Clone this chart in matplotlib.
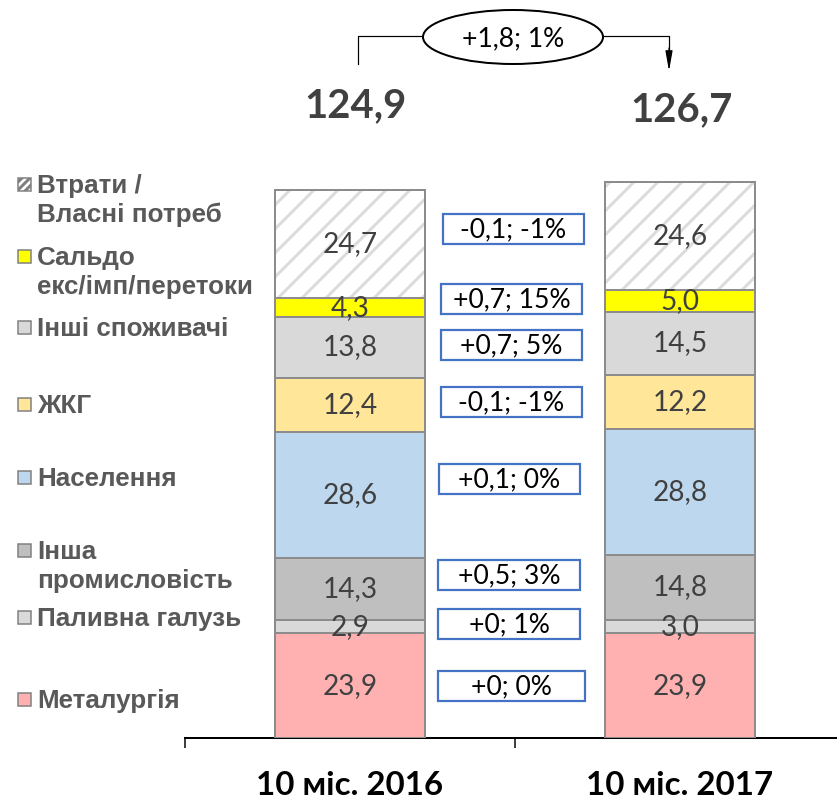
import matplotlib
matplotlib.use("Agg")
import matplotlib.pyplot as plt
from matplotlib.patches import Rectangle, Ellipse
import numpy as np

# ---------------- data ----------------
periods = ["10 міс. 2016", "10 міс. 2017"]
categories = ["Металургія", "Паливна галузь", "Інша\nпромисловість", "Населення",
              "ЖКГ", "Інші споживачі", "Сальдо\nекс/імп/перетоки", "Втрати /\nВласні потреб"]
values_2016 = [23.9, 2.9, 14.3, 28.6, 12.4, 13.8, 4.3, 24.7]
values_2017 = [23.9, 3.0, 14.8, 28.8, 12.2, 14.5, 5.0, 24.6]
totals = [124.9, 126.7]
change_labels = ["+0; 0%", "+0; 1%", "+0,5; 3%", "+0,1; 0%",
                 "-0,1; -1%", "+0,7; 5%", "+0,7; 15%", "-0,1; -1%"]
total_change_label = "+1,8; 1%"

# ---------------- styles / layout ----------------
colors = ["#FFB1B1", "#D9D9D9", "#BFBFBF", "#BDD7EE", "#FFE699", "#D9D9D9", "#FFFF00", "#FFFFFF"]
hatches = [None] * 7 + ["/"]
edge = "#8C8C8C"
W, H = 837, 801
DPI = 72
plt.rcParams["hatch.linewidth"] = 3.0
plt.rcParams["hatch.color"] = "#DCDCDC"

fig = plt.figure(figsize=(W / DPI, H / DPI), dpi=DPI)
fig.patch.set_facecolor("white")

ax_bottom_px = 738
ax = fig.add_axes([185 / W, (H - ax_bottom_px) / H, 660 / W, 702 / H])
ax.set_xlim(-0.5, 1.5)
ax.set_ylim(0, 160)
ax.set_facecolor("none")

bar_w = 0.4545
num_font = ["Lato", "DejaVu Sans"]
xs = np.arange(len(periods))
for xi, vals in zip(xs, [values_2016, values_2017]):
    bottom = 0.0
    for v, c, h in zip(vals, colors, hatches):
        if h:
            ax.bar(xi, v, bar_w, bottom=bottom, color=c, edgecolor="#DCDCDC",
                   linewidth=0, hatch=h, zorder=2)
            ax.bar(xi, v, bar_w, bottom=bottom, fill=False, edgecolor=edge,
                   linewidth=2, zorder=3)
        else:
            ax.bar(xi, v, bar_w, bottom=bottom, color=c, edgecolor=edge,
                   linewidth=2, zorder=3)
        ax.text(xi, bottom + v / 2, f"{v:.1f}".replace(".", ","), ha="center",
                va="center", fontsize=28, color="#404040", family=num_font, zorder=4)
        bottom += v

for s in ["top", "left", "right"]:
    ax.spines[s].set_visible(False)
ax.spines["bottom"].set_linewidth(2)
ax.spines["bottom"].set_color("black")
ax.set_yticks([])
ax.set_xticks(xs)
ax.set_xticklabels(periods, fontsize=33, fontweight="bold", family=num_font, color="black")
ax.tick_params(axis="x", which="major", length=0, pad=33)
ax.set_xticks([-0.5, 0.5, 1.5], minor=True)
ax.tick_params(axis="x", which="minor", length=10, width=1.5, direction="out", color="black")

# ---------------- overlay (pixel coords) ----------------
ov = fig.add_axes([0, 0, 1, 1])
ov.set_xlim(0, W)
ov.set_ylim(H, 0)
ov.axis("off")
ov.patch.set_alpha(0)

# totals
total_x = [355, 682]
total_y = [106, 110]
for tx, ty, t in zip(total_x, total_y, totals):
    ov.text(tx, ty, f"{t:.1f}".replace(".", ","), ha="center", va="center",
            fontsize=40, fontweight="bold", color="#404040", family=num_font)

# bracket + ellipse + arrow
ov.plot([358, 358, 424], [64, 36, 36], color="black", lw=1.2)
ov.plot([602, 669, 669], [36, 36, 55], color="black", lw=1.2)
ov.annotate("", xy=(669, 71), xytext=(669, 48),
            arrowprops=dict(arrowstyle="-|>,head_length=1.4,head_width=0.25",
                            mutation_scale=12, color="black", lw=1.2,
                            shrinkA=0, shrinkB=0))
ov.add_patch(Ellipse((513, 37), 180, 54, facecolor="white", edgecolor="black", lw=2, zorder=3))
ov.text(513, 39, total_change_label, ha="center", va="center", fontsize=26.5,
        color="black", family=num_font, zorder=4)

# change boxes
box_y = [686, 624, 574.5, 479, 402, 345, 299, 229]
box_x = [511.5, 509, 509, 509.5, 511.5, 511.5, 511.5, 513.5]
box_w = [147, 142, 142, 141, 141, 141, 141, 141]
for bx, by, bw, lab in zip(box_x, box_y, box_w, change_labels):
    ov.add_patch(Rectangle((bx - bw / 2, by - 15), bw, 30, facecolor="white",
                           edgecolor="#4472C4", lw=2.2, zorder=3))
    ov.text(bx, by + 1, lab, ha="center", va="center", fontsize=26.5, color="black",
            family=num_font, zorder=4)

# legend
leg_base = [708, 626, 559, 486, 413, 336, 265, 193]
leg_font = ["Liberation Sans"]
for name, c, h, yb in zip(categories, colors, hatches, leg_base):
    ov.add_patch(Rectangle((18, yb - 9 - 6.5), 13, 13, facecolor=c, edgecolor="#7F7F7F",
                           lw=1.5, hatch=("///" if h else None), zorder=3))
    for i, line in enumerate(name.split("\n")):
        ov.text(37, yb + i * 29, line, ha="left", va="baseline", fontsize=26,
                fontweight="bold", color="#595959", family=leg_font)

fig.savefig("out.png", dpi=DPI, facecolor="white")
